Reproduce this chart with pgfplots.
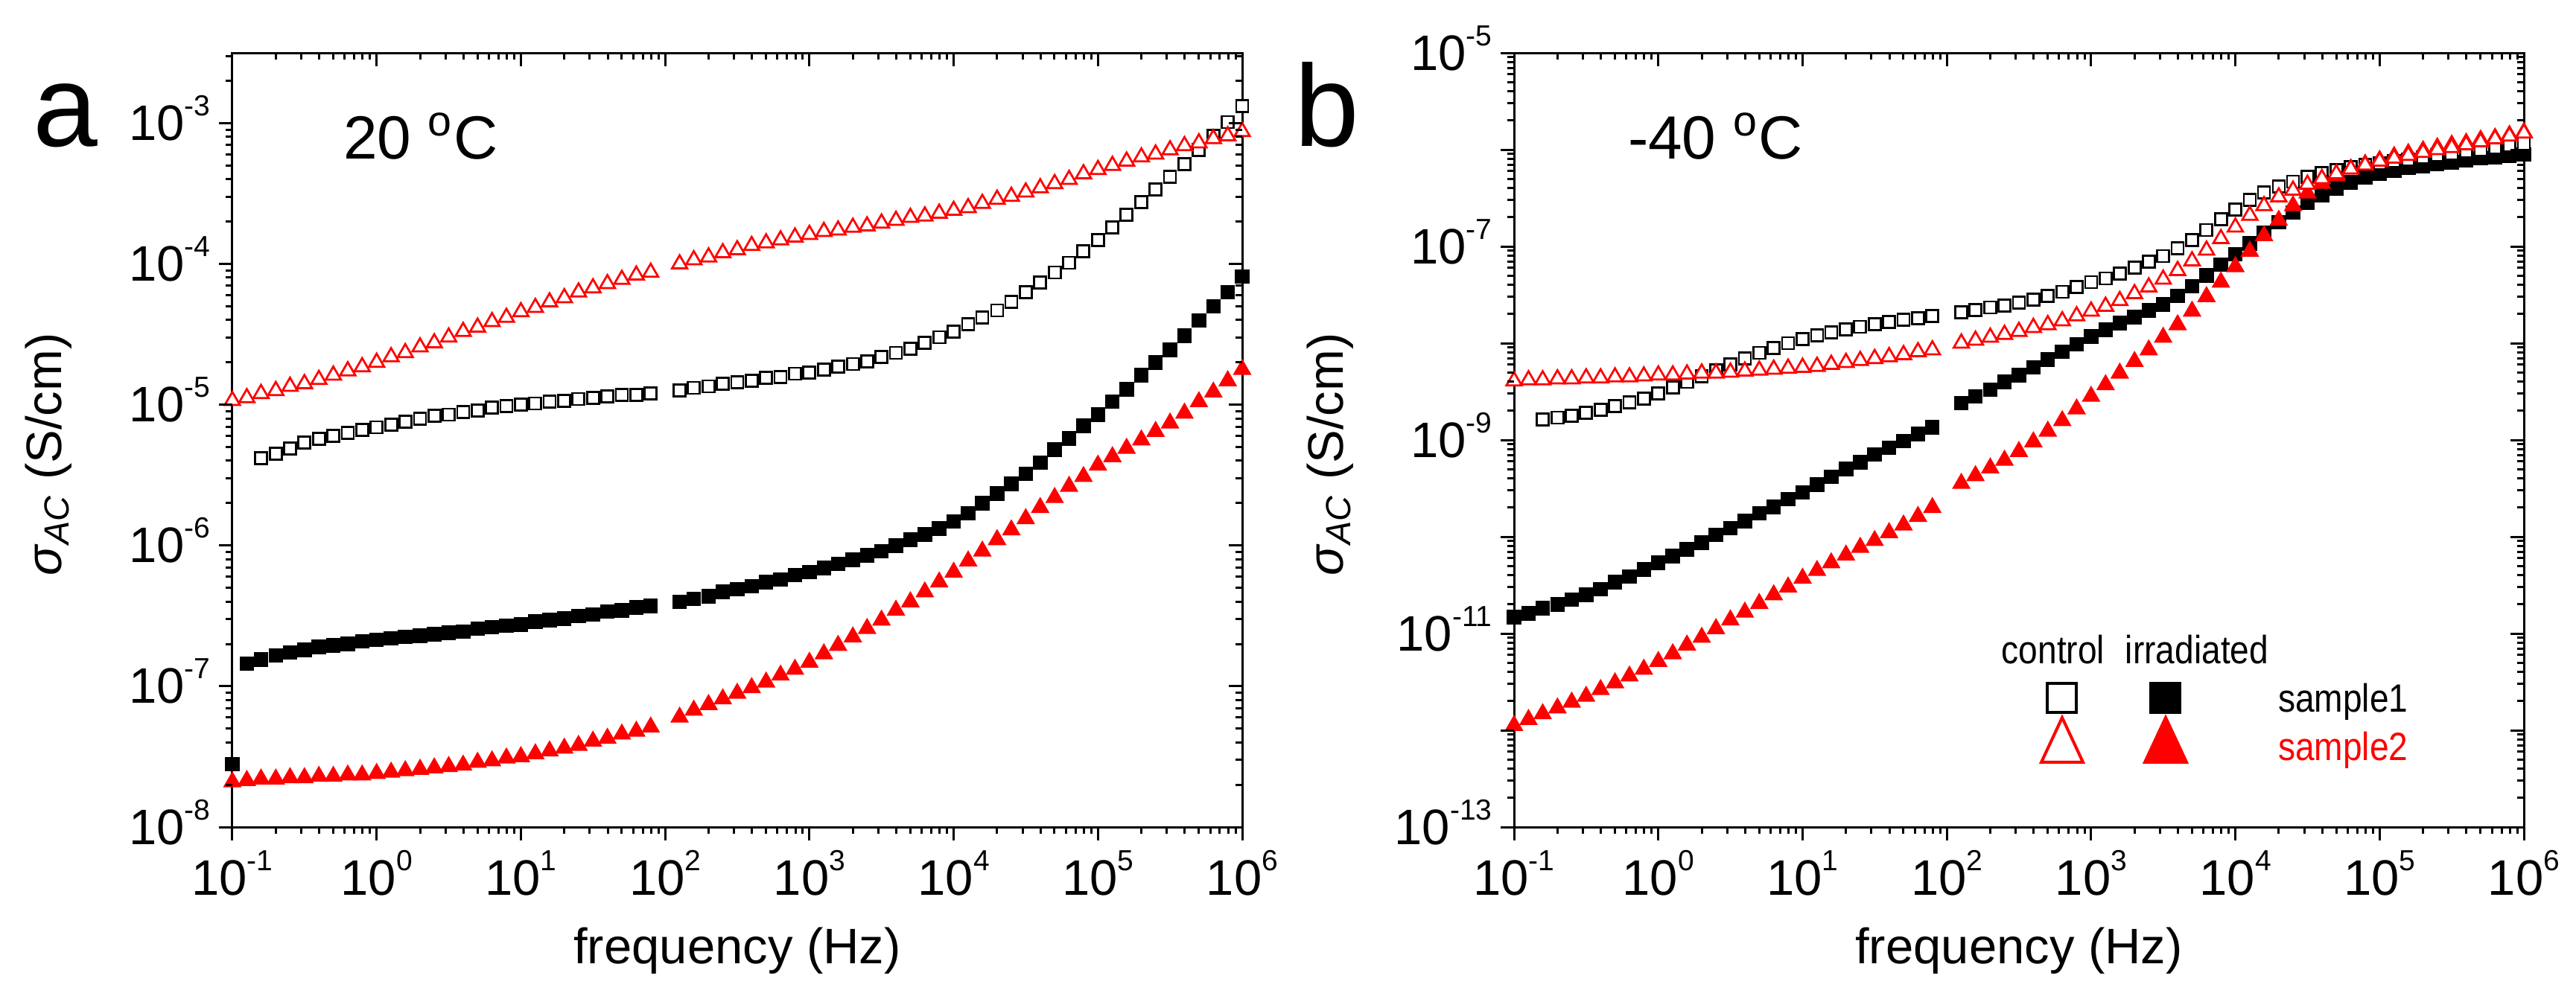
\documentclass[border=0pt]{standalone}
\usepackage{fontspec}
\setmainfont{Liberation Sans}
\usepackage{pgfplots}
\usepackage{pgfplotstable}
\pgfplotsset{compat=1.18}

% panel a (20 C): f, control sample2 (open tri), control sample1 (open sq), irradiated sample1 (filled sq), irradiated sample2 (filled tri)
\pgfplotstableread{
f ct cs is it
0.1 1.07e-5 nan 2.80e-8 2.09e-8
0.126 1.12e-5 nan 1.45e-7 2.14e-8
0.158 1.20e-5 4.17e-6 1.55e-7 2.19e-8
0.2 1.26e-5 4.47e-6 1.66e-7 2.19e-8
0.251 1.35e-5 4.90e-6 1.74e-7 2.24e-8
0.316 1.41e-5 5.37e-6 1.82e-7 2.24e-8
0.398 1.51e-5 5.75e-6 1.91e-7 2.29e-8
0.501 1.62e-5 6.03e-6 1.95e-7 2.29e-8
0.631 1.74e-5 6.31e-6 2.00e-7 2.34e-8
0.794 1.86e-5 6.61e-6 2.09e-7 2.34e-8
1 2.00e-5 6.92e-6 2.14e-7 2.40e-8
1.26 2.19e-5 7.24e-6 2.19e-7 2.45e-8
1.58 2.34e-5 7.59e-6 2.24e-7 2.51e-8
2.00 2.57e-5 7.94e-6 2.29e-7 2.57e-8
2.51 2.75e-5 8.32e-6 2.34e-7 2.63e-8
3.16 3.02e-5 8.51e-6 2.40e-7 2.69e-8
3.98 3.31e-5 8.91e-6 2.45e-7 2.75e-8
5.01 3.55e-5 9.12e-6 2.57e-7 2.88e-8
6.31 3.89e-5 9.55e-6 2.63e-7 2.95e-8
7.94 4.17e-5 9.77e-6 2.69e-7 3.09e-8
10 4.57e-5 1.00e-5 2.75e-7 3.16e-8
12.6 4.90e-5 1.02e-5 2.88e-7 3.31e-8
15.8 5.37e-5 1.05e-5 2.95e-7 3.47e-8
20.0 5.75e-5 1.07e-5 3.02e-7 3.63e-8
25.1 6.31e-5 1.10e-5 3.16e-7 3.80e-8
31.6 6.76e-5 1.12e-5 3.24e-7 4.07e-8
39.8 7.24e-5 1.15e-5 3.39e-7 4.27e-8
50.1 7.76e-5 1.17e-5 3.47e-7 4.57e-8
63.1 8.32e-5 1.17e-5 3.63e-7 4.79e-8
79.4 8.71e-5 1.20e-5 3.72e-7 5.13e-8
126 1.00e-4 1.26e-5 3.98e-7 6.03e-8
158 1.07e-4 1.32e-5 4.17e-7 6.76e-8
200 1.12e-4 1.35e-5 4.37e-7 7.41e-8
251 1.20e-4 1.41e-5 4.68e-7 8.13e-8
316 1.26e-4 1.45e-5 4.90e-7 8.91e-8
398 1.35e-4 1.48e-5 5.13e-7 9.77e-8
501 1.41e-4 1.55e-5 5.50e-7 1.07e-7
631 1.48e-4 1.58e-5 5.75e-7 1.20e-7
794 1.55e-4 1.66e-5 6.17e-7 1.32e-7
1000 1.62e-4 1.70e-5 6.46e-7 1.48e-7
1260 1.70e-4 1.78e-5 6.92e-7 1.70e-7
1580 1.74e-4 1.86e-5 7.41e-7 1.95e-7
2000 1.82e-4 1.95e-5 7.94e-7 2.24e-7
2510 1.86e-4 2.04e-5 8.51e-7 2.57e-7
3160 1.95e-4 2.19e-5 9.12e-7 2.95e-7
3980 2.04e-4 2.34e-5 1.00e-6 3.47e-7
5010 2.14e-4 2.51e-5 1.10e-6 3.98e-7
6310 2.19e-4 2.75e-5 1.20e-6 4.68e-7
7940 2.29e-4 3.02e-5 1.32e-6 5.50e-7
10000 2.40e-4 3.31e-5 1.48e-6 6.46e-7
12600 2.51e-4 3.72e-5 1.70e-6 7.76e-7
15800 2.69e-4 4.17e-5 2.00e-6 9.12e-7
20000 2.88e-4 4.68e-5 2.34e-6 1.10e-6
25100 3.02e-4 5.37e-5 2.75e-6 1.29e-6
31600 3.24e-4 6.31e-5 3.24e-6 1.55e-6
39800 3.47e-4 7.41e-5 3.89e-6 1.86e-6
50100 3.72e-4 8.71e-5 4.79e-6 2.19e-6
63100 3.98e-4 1.02e-4 5.75e-6 2.63e-6
79400 4.37e-4 1.23e-4 7.08e-6 3.09e-6
100000 4.68e-4 1.48e-4 8.51e-6 3.72e-6
126000 5.01e-4 1.82e-4 1.05e-5 4.27e-6
158000 5.37e-4 2.24e-4 1.29e-5 4.90e-6
200000 5.75e-4 2.75e-4 1.62e-5 5.62e-6
251000 6.03e-4 3.39e-4 2.00e-5 6.46e-6
316000 6.46e-4 4.17e-4 2.45e-5 7.41e-6
398000 6.92e-4 5.13e-4 3.09e-5 8.71e-6
501000 7.24e-4 6.46e-4 3.98e-5 1.05e-5
631000 7.76e-4 8.13e-4 5.01e-5 1.23e-5
794000 8.13e-4 1.02e-3 6.31e-5 1.48e-5
1000000 8.71e-4 1.32e-3 8.13e-5 1.78e-5
}\tabA

% panel b (-40 C)
\pgfplotstableread{
f ct cs is it
0.1 4.07e-9 nan 1.48e-11 1.12e-12
0.126 4.17e-9 nan 1.62e-11 1.29e-12
0.158 4.17e-9 1.62e-9 1.82e-11 1.48e-12
0.2 4.27e-9 1.70e-9 2.00e-11 1.70e-12
0.251 4.27e-9 1.78e-9 2.24e-11 1.95e-12
0.316 4.37e-9 1.91e-9 2.51e-11 2.24e-12
0.398 4.37e-9 2.04e-9 2.88e-11 2.63e-12
0.501 4.47e-9 2.24e-9 3.39e-11 3.09e-12
0.631 4.47e-9 2.45e-9 3.89e-11 3.63e-12
0.794 4.57e-9 2.69e-9 4.57e-11 4.27e-12
1 4.68e-9 3.02e-9 5.37e-11 5.13e-12
1.26 4.68e-9 3.47e-9 6.31e-11 6.17e-12
1.58 4.79e-9 3.98e-9 7.41e-11 7.59e-12
2.00 4.90e-9 4.57e-9 8.71e-11 9.12e-12
2.51 4.90e-9 5.25e-9 1.05e-10 1.12e-11
3.16 5.01e-9 6.03e-9 1.23e-10 1.38e-11
3.98 5.13e-9 6.92e-9 1.45e-10 1.66e-11
5.01 5.25e-9 7.94e-9 1.74e-10 2.04e-11
6.31 5.37e-9 8.91e-9 2.04e-10 2.51e-11
7.94 5.50e-9 1.00e-8 2.45e-10 3.02e-11
10 5.62e-9 1.10e-8 2.88e-10 3.72e-11
12.6 5.75e-9 1.20e-8 3.47e-10 4.47e-11
15.8 6.03e-9 1.29e-8 4.17e-10 5.37e-11
20.0 6.31e-9 1.38e-8 5.01e-10 6.46e-11
25.1 6.61e-9 1.48e-8 5.89e-10 7.76e-11
31.6 6.92e-9 1.58e-8 7.08e-10 9.12e-11
39.8 7.24e-9 1.66e-8 8.32e-10 1.10e-10
50.1 7.59e-9 1.74e-8 9.77e-10 1.32e-10
63.1 8.13e-9 1.82e-8 1.15e-9 1.62e-10
79.4 8.51e-9 1.91e-8 1.35e-9 2.00e-10
126 1.00e-8 2.09e-8 2.40e-9 3.55e-10
158 1.07e-8 2.19e-8 2.82e-9 4.27e-10
200 1.15e-8 2.34e-8 3.31e-9 5.13e-10
251 1.23e-8 2.45e-8 3.98e-9 6.17e-10
316 1.32e-8 2.63e-8 4.68e-9 7.59e-10
398 1.45e-8 2.82e-8 5.62e-9 9.55e-10
501 1.55e-8 3.09e-8 6.76e-9 1.23e-9
631 1.70e-8 3.39e-8 8.13e-9 1.58e-9
794 1.91e-8 3.80e-8 9.77e-9 2.09e-9
1000 2.14e-8 4.27e-8 1.17e-8 2.82e-9
1260 2.40e-8 4.68e-8 1.38e-8 3.72e-9
1580 2.75e-8 5.25e-8 1.62e-8 4.90e-9
2000 3.24e-8 6.03e-8 1.86e-8 6.46e-9
2510 3.80e-8 6.92e-8 2.19e-8 8.51e-9
3160 4.57e-8 7.94e-8 2.51e-8 1.15e-8
3980 5.62e-8 9.55e-8 3.09e-8 1.55e-8
5010 7.08e-8 1.17e-7 3.89e-8 2.14e-8
6310 9.12e-8 1.48e-7 5.01e-8 3.02e-8
7940 1.20e-7 1.91e-7 6.46e-8 4.27e-8
10000 1.58e-7 2.40e-7 8.32e-8 6.17e-8
12600 2.09e-7 3.02e-7 1.07e-7 8.91e-8
15800 2.63e-7 3.63e-7 1.38e-7 1.29e-7
20000 3.24e-7 4.17e-7 1.78e-7 1.86e-7
25100 3.80e-7 4.68e-7 2.24e-7 2.63e-7
31600 4.37e-7 5.25e-7 2.82e-7 3.55e-7
39800 5.01e-7 5.75e-7 3.39e-7 4.47e-7
50100 5.62e-7 6.17e-7 3.98e-7 5.37e-7
63100 6.31e-7 6.61e-7 4.57e-7 6.31e-7
79400 6.92e-7 6.92e-7 5.13e-7 7.08e-7
100000 7.59e-7 7.24e-7 5.62e-7 7.76e-7
126000 8.13e-7 7.59e-7 6.03e-7 8.51e-7
158000 8.71e-7 7.94e-7 6.46e-7 9.12e-7
200000 9.33e-7 8.32e-7 6.76e-7 9.77e-7
251000 1.00e-6 8.71e-7 7.08e-7 1.05e-6
316000 1.05e-6 9.12e-7 7.41e-7 1.12e-6
398000 1.12e-6 9.55e-7 7.76e-7 1.17e-6
501000 1.20e-6 1.00e-6 8.13e-7 1.26e-6
631000 1.29e-6 1.05e-6 8.32e-7 1.32e-6
794000 1.38e-6 1.10e-6 8.71e-7 1.41e-6
1000000 1.48e-6 1.15e-6 8.91e-7 1.51e-6
}\tabB

\newcommand\tenpow[1]{10\smash{\raisebox{6.6bp}{\fontsize{7.8bp}{8bp}\selectfont #1}}}
\newcommand\tickfont{\fontsize{13.4bp}{15bp}\selectfont}
\newcommand\legfont{\fontsize{10.6bp}{12bp}\selectfont}

\begin{document}
\begin{tikzpicture}
% ---------- panel a ----------
\begin{axis}[at={(62.4bp,46.2bp)}, anchor=south west,
  scale only axis, width=271.2bp, height=208bp,
  xmode=log, ymode=log, clip mode=individual,
  xmin=0.1, xmax=1e6, ymin=1e-8, ymax=3.1623e-3,
  xtick={1e-1,1e0,1e1,1e2,1e3,1e4,1e5,1e6},
  ytick={1e-8,1e-7,1e-6,1e-5,1e-4,1e-3},
  xticklabels={\tenpow{-1},\tenpow{0},\tenpow{1},\tenpow{2},\tenpow{3},\tenpow{4},\tenpow{5},\tenpow{6}},
  yticklabels={\tenpow{-8},\tenpow{-7},\tenpow{-6},\tenpow{-5},\tenpow{-4},\tenpow{-3}},
  axis line style={line width=0.6bp},
  major tick length=0pt, minor tick length=0pt,
  xticklabel style={font=\tickfont, inner sep=0pt, anchor=north, yshift=-8.8bp},
  yticklabel style={font=\tickfont, inner sep=0pt, anchor=east, xshift=-5.7bp},
  xlabel={frequency (Hz)},
  ylabel={\textit{σ}\textsubscript{\textit{AC}} (S/cm)},
  xlabel style={font=\tickfont, at={(axis description cs:0.5,-0.1769)}, anchor=base},
  ylabel style={font=\tickfont, at={(axis description cs:-0.1696,0.481)}, anchor=base},
]
\addplot[only marks, mark=square*, mark size=1.7bp, mark options={draw=black, fill=black, line width=0.5bp}] table[x=f,y=is]{\tabA};
\addplot[only marks, mark=square*, mark size=1.6bp, mark options={draw=black, fill=white, line width=0.55bp}] table[x=f,y=cs]{\tabA};
\addplot[only marks, mark=triangle*, mark size=2.4bp, mark options={draw=red, fill=red, line width=0.5bp}] table[x=f,y=it]{\tabA};
\addplot[only marks, mark=triangle*, mark size=2.35bp, mark options={draw=red, fill=white, line width=0.55bp}] table[x=f,y=ct]{\tabA};
% tick marks: outward on bottom/left, inward on top/right
\pgfplotsinvokeforeach{0.1,1,10,100,1000,10000,100000,1000000}{
  \draw[line width=0.6bp] (axis cs:#1,1e-8) -- ([yshift=-3.6bp]axis cs:#1,1e-8);
  \draw[line width=0.6bp] (axis cs:#1,3.1623e-3) -- ([yshift=-3.6bp]axis cs:#1,3.1623e-3);
}
\pgfplotsinvokeforeach{0.2,0.3,0.4,0.5,0.6,0.7,0.8,0.9,2,3,4,5,6,7,8,9,20,30,40,50,60,70,80,90,200,300,400,500,600,700,800,900,2000,3000,4000,5000,6000,7000,8000,9000,20000,30000,40000,50000,60000,70000,80000,90000,200000,300000,400000,500000,600000,700000,800000,900000}{
  \draw[line width=0.6bp] (axis cs:#1,1e-8) -- ([yshift=-1.8bp]axis cs:#1,1e-8);
  \draw[line width=0.6bp] (axis cs:#1,3.1623e-3) -- ([yshift=-1.8bp]axis cs:#1,3.1623e-3);
}
\pgfplotsinvokeforeach{1e-8,1e-7,1e-6,1e-5,1e-4,1e-3}{
  \draw[line width=0.6bp] (axis cs:0.1,#1) -- ([xshift=-3.6bp]axis cs:0.1,#1);
  \draw[line width=0.6bp] (axis cs:1e6,#1) -- ([xshift=-3.6bp]axis cs:1e6,#1);
}
\pgfplotsinvokeforeach{2e-8,3e-8,4e-8,5e-8,6e-8,7e-8,8e-8,9e-8,2e-7,3e-7,4e-7,5e-7,6e-7,7e-7,8e-7,9e-7,2e-6,3e-6,4e-6,5e-6,6e-6,7e-6,8e-6,9e-6,2e-5,3e-5,4e-5,5e-5,6e-5,7e-5,8e-5,9e-5,2e-4,3e-4,4e-4,5e-4,6e-4,7e-4,8e-4,9e-4,2e-3,3e-3}{
  \draw[line width=0.6bp] (axis cs:0.1,#1) -- ([xshift=-1.8bp]axis cs:0.1,#1);
  \draw[line width=0.6bp] (axis cs:1e6,#1) -- ([xshift=-1.8bp]axis cs:1e6,#1);
}
\end{axis}
% ---------- panel b ----------
\begin{axis}[at={(406.6bp,46.2bp)}, anchor=south west,
  scale only axis, width=271.2bp, height=208bp,
  xmode=log, ymode=log, clip mode=individual,
  xmin=0.1, xmax=1e6, ymin=1e-13, ymax=1e-5,
  xtick={1e-1,1e0,1e1,1e2,1e3,1e4,1e5,1e6},
  ytick={1e-13,1e-12,1e-11,1e-10,1e-9,1e-8,1e-7,1e-6,1e-5},
  xticklabels={\tenpow{-1},\tenpow{0},\tenpow{1},\tenpow{2},\tenpow{3},\tenpow{4},\tenpow{5},\tenpow{6}},
  yticklabels={\tenpow{-13},,\tenpow{-11},,\tenpow{-9},,\tenpow{-7},,\tenpow{-5}},
  axis line style={line width=0.6bp},
  major tick length=0pt, minor tick length=0pt,
  xticklabel style={font=\tickfont, inner sep=0pt, anchor=north, yshift=-8.8bp},
  yticklabel style={font=\tickfont, inner sep=0pt, anchor=east, xshift=-5.7bp},
  xlabel={frequency (Hz)},
  ylabel={\textit{σ}\textsubscript{\textit{AC}} (S/cm)},
  xlabel style={font=\tickfont, at={(axis description cs:0.5,-0.1769)}, anchor=base},
  ylabel style={font=\tickfont, at={(axis description cs:-0.1696,0.481)}, anchor=base},
]
\addplot[only marks, mark=square*, mark size=1.7bp, mark options={draw=black, fill=black, line width=0.5bp}] table[x=f,y=is]{\tabB};
\addplot[only marks, mark=square*, mark size=1.6bp, mark options={draw=black, fill=white, line width=0.55bp}] table[x=f,y=cs]{\tabB};
\addplot[only marks, mark=triangle*, mark size=2.4bp, mark options={draw=red, fill=red, line width=0.5bp}] table[x=f,y=it]{\tabB};
\addplot[only marks, mark=triangle*, mark size=2.35bp, mark options={draw=red, fill=white, line width=0.55bp}] table[x=f,y=ct]{\tabB};
\pgfplotsinvokeforeach{0.1,1,10,100,1000,10000,100000,1000000}{
  \draw[line width=0.6bp] (axis cs:#1,1e-13) -- ([yshift=-3.6bp]axis cs:#1,1e-13);
  \draw[line width=0.6bp] (axis cs:#1,1e-5) -- ([yshift=-3.6bp]axis cs:#1,1e-5);
}
\pgfplotsinvokeforeach{0.2,0.3,0.4,0.5,0.6,0.7,0.8,0.9,2,3,4,5,6,7,8,9,20,30,40,50,60,70,80,90,200,300,400,500,600,700,800,900,2000,3000,4000,5000,6000,7000,8000,9000,20000,30000,40000,50000,60000,70000,80000,90000,200000,300000,400000,500000,600000,700000,800000,900000}{
  \draw[line width=0.6bp] (axis cs:#1,1e-13) -- ([yshift=-1.8bp]axis cs:#1,1e-13);
  \draw[line width=0.6bp] (axis cs:#1,1e-5) -- ([yshift=-1.8bp]axis cs:#1,1e-5);
}
\pgfplotsinvokeforeach{1e-13,1e-12,1e-11,1e-10,1e-9,1e-8,1e-7,1e-6,1e-5}{
  \draw[line width=0.6bp] (axis cs:0.1,#1) -- ([xshift=-3.6bp]axis cs:0.1,#1);
  \draw[line width=0.6bp] (axis cs:1e6,#1) -- ([xshift=-3.6bp]axis cs:1e6,#1);
}
\pgfplotsinvokeforeach{2e-13,3e-13,4e-13,5e-13,6e-13,7e-13,8e-13,9e-13,2e-12,3e-12,4e-12,5e-12,6e-12,7e-12,8e-12,9e-12,2e-11,3e-11,4e-11,5e-11,6e-11,7e-11,8e-11,9e-11,2e-10,3e-10,4e-10,5e-10,6e-10,7e-10,8e-10,9e-10,2e-9,3e-9,4e-9,5e-9,6e-9,7e-9,8e-9,9e-9,2e-8,3e-8,4e-8,5e-8,6e-8,7e-8,8e-8,9e-8,2e-7,3e-7,4e-7,5e-7,6e-7,7e-7,8e-7,9e-7,2e-6,3e-6,4e-6,5e-6,6e-6,7e-6,8e-6,9e-6}{
  \draw[line width=0.6bp] (axis cs:0.1,#1) -- ([xshift=-1.8bp]axis cs:0.1,#1);
  \draw[line width=0.6bp] (axis cs:1e6,#1) -- ([xshift=-1.8bp]axis cs:1e6,#1);
}
\end{axis}
% ---------- annotations ----------
\node[anchor=base west, inner sep=0pt, font=\fontsize{31.2bp}{32bp}\selectfont] at (8.8bp,229bp) {a};
\node[anchor=base west, inner sep=0pt, font=\fontsize{31.2bp}{32bp}\selectfont] at (347.4bp,229bp) {b};
\node[anchor=base west, inner sep=0pt, font=\fontsize{16.4bp}{18bp}\selectfont] at (92bp,225.6bp) {20 \textsuperscript{o}C};
\node[anchor=base west, inner sep=0pt, font=\fontsize{16.4bp}{18bp}\selectfont] at (437bp,225.6bp) {-40 \textsuperscript{o}C};
% legend of panel b
\node[anchor=base, inner sep=0pt, font=\legfont] at (551.4bp,90bp) {\scalebox{0.87}[1]{control}};
\node[anchor=base, inner sep=0pt, font=\legfont] at (590bp,90bp) {\scalebox{0.87}[1]{irradiated}};
\node[anchor=base west, inner sep=0pt, font=\legfont] at (611.6bp,77bp) {\scalebox{0.87}[1]{sample1}};
\node[anchor=base west, inner sep=0pt, text=red, font=\legfont] at (611.6bp,64bp) {\scalebox{0.87}[1]{sample2}};
\draw[line width=0.8bp, fill=white] (549.7bp,76.9bp) rectangle (557.5bp,84.7bp);
\draw[line width=0.8bp, fill=black] (577.5bp,76.9bp) rectangle (585.3bp,84.7bp);
\draw[line width=0.8bp, red, fill=white] (548.2bp,63.6bp) -- (559.4bp,63.6bp) -- (553.8bp,75.6bp) -- cycle;
\draw[line width=0.8bp, red, fill=red] (576bp,63.6bp) -- (587.2bp,63.6bp) -- (581.6bp,75.6bp) -- cycle;
\pgfresetboundingbox
\path[use as bounding box] (0,0) rectangle (691.8bp,268.4bp);
\end{tikzpicture}
\end{document}
